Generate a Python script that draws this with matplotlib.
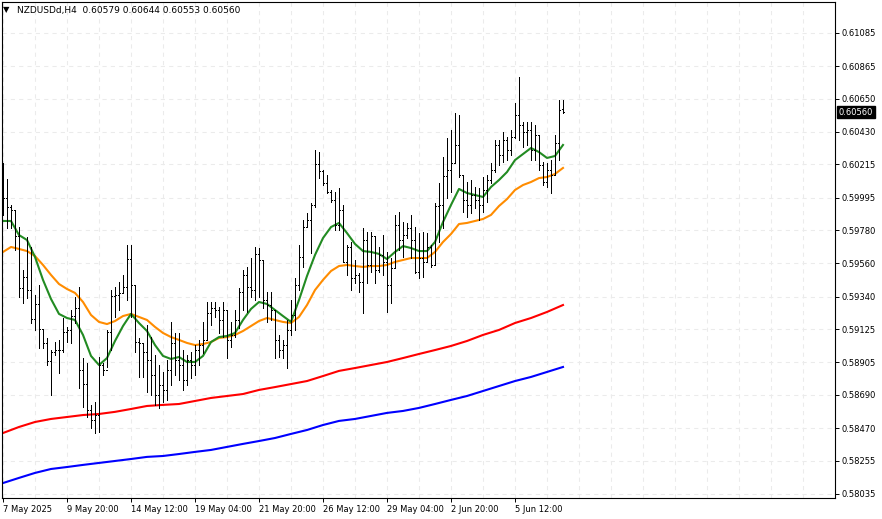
import numpy as np
import matplotlib
matplotlib.use("Agg")
import matplotlib.pyplot as plt
from matplotlib.ticker import FixedLocator

# NZDUSDd H4 bars (open, high, low, close), oldest first
opens = [0.60145, 0.59993, 0.59934, 0.59914, 0.59742, 0.59398, 0.59470, 0.59384, 0.59192, 0.59292,
         0.59126, 0.59034, 0.58915, 0.58974, 0.58987, 0.58987, 0.59107, 0.59120, 0.59212, 0.59265,
         0.58855, 0.58762, 0.58591, 0.58524, 0.58557, 0.58888, 0.58855, 0.59107, 0.59345, 0.59351,
         0.59365, 0.59404, 0.59589, 0.59417, 0.59040, 0.59034, 0.58974, 0.58921, 0.58822, 0.58690,
         0.58756, 0.58723, 0.58855, 0.59034, 0.58921, 0.58888, 0.58789, 0.58921, 0.58888, 0.58987,
         0.59020, 0.59054, 0.59232, 0.59265, 0.59252, 0.59186, 0.59252, 0.59054, 0.59087, 0.59186,
         0.59371, 0.59484, 0.59404, 0.59384, 0.59623, 0.59583, 0.59318, 0.59285, 0.59252, 0.59054,
         0.58987, 0.59020, 0.59120, 0.59219, 0.59417, 0.59603, 0.59801, 0.59847, 0.59947, 0.60218,
         0.60172, 0.60092, 0.60033, 0.59980, 0.59814, 0.59914, 0.59570, 0.59669, 0.59464, 0.59484,
         0.59437, 0.59715, 0.59550, 0.59742, 0.59517, 0.59616, 0.59570, 0.59417, 0.59530, 0.59814,
         0.59715, 0.59748, 0.59795, 0.59715, 0.59503, 0.59596, 0.59570, 0.59669, 0.59550, 0.59940,
         0.59947, 0.60139, 0.60178, 0.60224, 0.60344, 0.60145, 0.59980, 0.59947, 0.60013, 0.59980,
         0.59947, 0.60046, 0.60112, 0.60178, 0.60344, 0.60278, 0.60377, 0.60311, 0.60397, 0.60542,
         0.60476, 0.60430, 0.60443, 0.60311, 0.60410, 0.60211, 0.60099, 0.60178, 0.60145, 0.60357,
         0.60579]
highs = [0.60224, 0.60119, 0.59947, 0.59907, 0.59801, 0.59517, 0.59735, 0.59669, 0.59351, 0.59417,
         0.59120, 0.59067, 0.58987, 0.59040, 0.59054, 0.59199, 0.59140, 0.59252, 0.59338, 0.59404,
         0.58934, 0.58902, 0.58624, 0.58643, 0.58941, 0.58902, 0.59120, 0.59384, 0.59404, 0.59437,
         0.59484, 0.59682, 0.59682, 0.59417, 0.59067, 0.59034, 0.59153, 0.59073, 0.58954, 0.58888,
         0.58842, 0.58921, 0.59173, 0.59100, 0.59100, 0.58987, 0.58954, 0.58974, 0.59020, 0.59054,
         0.59173, 0.59305, 0.59305, 0.59305, 0.59272, 0.59305, 0.59252, 0.59173, 0.59252, 0.59398,
         0.59517, 0.59537, 0.59596, 0.59669, 0.59662, 0.59583, 0.59371, 0.59371, 0.59252, 0.59087,
         0.59054, 0.59186, 0.59318, 0.59464, 0.59682, 0.59847, 0.59894, 0.59960, 0.60311, 0.60297,
         0.60178, 0.60145, 0.60046, 0.60033, 0.60059, 0.59947, 0.59682, 0.59702, 0.59583, 0.59497,
         0.59795, 0.59768, 0.59768, 0.59742, 0.59669, 0.59748, 0.59636, 0.59596, 0.59881, 0.59900,
         0.59834, 0.59828, 0.59881, 0.59801, 0.59761, 0.59768, 0.59761, 0.59682, 0.59960, 0.60092,
         0.60264, 0.60390, 0.60443, 0.60555, 0.60542, 0.60145, 0.60099, 0.60112, 0.60066, 0.60059,
         0.60132, 0.60145, 0.60224, 0.60377, 0.60377, 0.60430, 0.60397, 0.60443, 0.60622, 0.60794,
         0.60496, 0.60496, 0.60496, 0.60476, 0.60410, 0.60231, 0.60224, 0.60244, 0.60410, 0.60641,
         0.60644]
lows = [0.59881, 0.59795, 0.59795, 0.59649, 0.59338, 0.59298, 0.59332, 0.59166, 0.59120, 0.59001,
        0.59001, 0.58888, 0.58690, 0.58954, 0.58835, 0.58974, 0.59040, 0.59034, 0.59166, 0.58736,
        0.58610, 0.58544, 0.58471, 0.58438, 0.58445, 0.58822, 0.58875, 0.58987, 0.59206, 0.59252,
        0.59365, 0.59318, 0.59206, 0.58974, 0.58809, 0.58809, 0.58710, 0.58690, 0.58624, 0.58604,
        0.58643, 0.58657, 0.58756, 0.58822, 0.58789, 0.58723, 0.58756, 0.58802, 0.58822, 0.58888,
        0.58968, 0.59054, 0.59153, 0.59206, 0.59100, 0.59073, 0.58934, 0.59007, 0.59073, 0.59133,
        0.59252, 0.59239, 0.59338, 0.59318, 0.59338, 0.59265, 0.59173, 0.59186, 0.58934, 0.58941,
        0.58934, 0.58868, 0.59087, 0.59120, 0.59384, 0.59537, 0.59801, 0.59629, 0.59934, 0.60125,
        0.60079, 0.60026, 0.59967, 0.59781, 0.59781, 0.59570, 0.59484, 0.59384, 0.59431, 0.59371,
        0.59232, 0.59431, 0.59503, 0.59431, 0.59503, 0.59484, 0.59239, 0.59298, 0.59530, 0.59649,
        0.59603, 0.59728, 0.59596, 0.59497, 0.59464, 0.59470, 0.59570, 0.59537, 0.59550, 0.59702,
        0.59795, 0.59993, 0.60033, 0.60224, 0.60132, 0.59900, 0.59867, 0.59894, 0.59927, 0.59847,
        0.59900, 0.59967, 0.60092, 0.60165, 0.60211, 0.60231, 0.60244, 0.60278, 0.60390, 0.60377,
        0.60330, 0.60344, 0.60244, 0.60244, 0.60178, 0.60079, 0.60066, 0.60026, 0.60145, 0.60244,
        0.60553]
closes = [0.59993, 0.59934, 0.59914, 0.59742, 0.59398, 0.59470, 0.59384, 0.59192, 0.59292, 0.59126,
          0.59034, 0.58915, 0.58974, 0.58987, 0.58987, 0.59107, 0.59120, 0.59212, 0.59265, 0.58855,
          0.58762, 0.58591, 0.58524, 0.58557, 0.58888, 0.58855, 0.59107, 0.59345, 0.59351, 0.59365,
          0.59404, 0.59589, 0.59417, 0.59040, 0.59034, 0.58974, 0.58921, 0.58822, 0.58690, 0.58756,
          0.58723, 0.58855, 0.59034, 0.58921, 0.58888, 0.58789, 0.58921, 0.58888, 0.58987, 0.59020,
          0.59054, 0.59232, 0.59265, 0.59252, 0.59186, 0.59252, 0.59054, 0.59087, 0.59186, 0.59371,
          0.59484, 0.59404, 0.59384, 0.59623, 0.59583, 0.59318, 0.59285, 0.59252, 0.59054, 0.58987,
          0.59020, 0.59120, 0.59219, 0.59417, 0.59603, 0.59801, 0.59847, 0.59947, 0.60218, 0.60172,
          0.60092, 0.60033, 0.59980, 0.59814, 0.59914, 0.59570, 0.59669, 0.59464, 0.59484, 0.59437,
          0.59715, 0.59550, 0.59742, 0.59517, 0.59616, 0.59570, 0.59417, 0.59530, 0.59814, 0.59715,
          0.59748, 0.59795, 0.59715, 0.59503, 0.59596, 0.59570, 0.59669, 0.59550, 0.59940, 0.59947,
          0.60139, 0.60178, 0.60224, 0.60344, 0.60145, 0.59980, 0.59947, 0.60013, 0.59980, 0.59947,
          0.60046, 0.60112, 0.60178, 0.60344, 0.60278, 0.60377, 0.60311, 0.60397, 0.60542, 0.60476,
          0.60430, 0.60443, 0.60311, 0.60410, 0.60211, 0.60099, 0.60178, 0.60145, 0.60357, 0.60575,
          0.60560]

# fast moving averages, read every 2nd bar
ma_green = [0.59841, 0.59841, 0.59748, 0.59715, 0.59603, 0.59451, 0.59325, 0.59226, 0.59199, 0.59186,
            0.59087, 0.58948, 0.58888, 0.58934, 0.59047, 0.59146, 0.59226, 0.59166, 0.59113, 0.59020,
            0.58948, 0.58928, 0.58941, 0.58908, 0.58908, 0.58948, 0.59040, 0.59073, 0.59080, 0.59100,
            0.59186, 0.59259, 0.59305, 0.59292, 0.59252, 0.59212, 0.59173, 0.59318, 0.59477, 0.59616,
            0.59728, 0.59801, 0.59828, 0.59761, 0.59689, 0.59642, 0.59636, 0.59623, 0.59589, 0.59636,
            0.59675, 0.59662, 0.59642, 0.59642, 0.59702, 0.59834, 0.59947, 0.60053, 0.60026, 0.60013,
            0.60000, 0.60066, 0.60112, 0.60165, 0.60244, 0.60284, 0.60324, 0.60297, 0.60258, 0.60271,
            0.60344]
ma_orange = [0.59636, 0.59669, 0.59656, 0.59642, 0.59609, 0.59550, 0.59484, 0.59424, 0.59391, 0.59365,
             0.59305, 0.59219, 0.59173, 0.59159, 0.59179, 0.59212, 0.59226, 0.59206, 0.59186, 0.59140,
             0.59100, 0.59073, 0.59054, 0.59034, 0.59020, 0.59027, 0.59040, 0.59067, 0.59073, 0.59087,
             0.59113, 0.59146, 0.59179, 0.59199, 0.59186, 0.59173, 0.59166, 0.59206, 0.59285, 0.59384,
             0.59451, 0.59510, 0.59543, 0.59550, 0.59543, 0.59537, 0.59543, 0.59543, 0.59550, 0.59570,
             0.59583, 0.59596, 0.59596, 0.59596, 0.59636, 0.59702, 0.59755, 0.59821, 0.59828, 0.59841,
             0.59854, 0.59881, 0.59940, 0.59986, 0.60046, 0.60079, 0.60099, 0.60125, 0.60132, 0.60152,
             0.60192]
# slow moving averages, read every 4th bar
ma_red = [0.58438, 0.58478, 0.58511, 0.58531, 0.58544, 0.58557, 0.58564, 0.58578, 0.58597, 0.58617,
          0.58624, 0.58630, 0.58650, 0.58670, 0.58683, 0.58696, 0.58723, 0.58742, 0.58762, 0.58782,
          0.58815, 0.58849, 0.58868, 0.58888, 0.58908, 0.58934, 0.58961, 0.58987, 0.59014, 0.59047,
          0.59087, 0.59120, 0.59166, 0.59199, 0.59239, 0.59285]
ma_blue = [0.58107, 0.58141, 0.58174, 0.58200, 0.58213, 0.58227, 0.58240, 0.58253, 0.58266, 0.58280,
           0.58286, 0.58299, 0.58313, 0.58326, 0.58346, 0.58366, 0.58385, 0.58405, 0.58432, 0.58458,
           0.58491, 0.58518, 0.58531, 0.58551, 0.58571, 0.58584, 0.58604, 0.58630, 0.58657, 0.58683,
           0.58716, 0.58749, 0.58782, 0.58809, 0.58842, 0.58875]

# axis labels as shown by the terminal
price_ticks = [0.61085, 0.60865, 0.60650, 0.60430, 0.60215, 0.59995, 0.59780,
               0.59560, 0.59340, 0.59125, 0.58905, 0.58690, 0.58470, 0.58255, 0.58035]
time_labels = ["7 May 2025", "9 May 20:00", "14 May 12:00", "19 May 04:00", "21 May 20:00",
               "26 May 12:00", "29 May 04:00", "2 Jun 20:00", "5 Jun 12:00"]
symbol = "NZDUSDd,H4"

W, H = 882, 519
fig = plt.figure(figsize=(W / 100, H / 100), dpi=100)
fig.patch.set_facecolor("white")
# chart area in pixels: x 2..835, y 2..498
ax = fig.add_axes([2 / W, (H - 498) / H, 833 / W, 496 / H])

n = len(closes)
idx = np.arange(n)
ax.set_xlim(-0.25, 208)
ax.set_ylim(0.58008, 0.61290)

# grid
for p in price_ticks:
    ax.axhline(p, color="#ebebeb", lw=0.75, ls=(0, (4, 4)), zorder=0)
for g in range(0, 208, 8):
    ax.axvline(g, color="#ebebeb", lw=0.75, ls=(0, (4, 4)), zorder=0)

# moving averages
slow_x = np.arange(0, 4 * len(ma_red), 4)
fast_x = np.arange(0, 2 * len(ma_green), 2)
ax.plot(slow_x, ma_blue, color="#0000ff", lw=1.5, zorder=2)
ax.plot(slow_x, ma_red, color="#ff0000", lw=1.5, zorder=2)
ax.plot(fast_x, ma_orange, color="#ff8c00", lw=1.5, zorder=2)
ax.plot(fast_x, ma_green, color="#228b22", lw=1.5, zorder=2)

# OHLC bars: thin 1px stems, 1px open/close ticks
ax.vlines(idx, lows, highs, color="black", lw=0.72, antialiased=False, zorder=3)
ax.hlines(opens, idx - 0.3, idx, color="black", lw=0.72, antialiased=False, zorder=3)
ax.hlines(closes, idx, idx + 0.3, color="black", lw=0.72, antialiased=False, zorder=3)

# frame
for s in ax.spines.values():
    s.set_color("black")
    s.set_linewidth(0.8)

# right price axis
ax.yaxis.tick_right()
ax.yaxis.set_major_locator(FixedLocator(price_ticks))
ax.set_yticklabels([f"{p:.5f}" for p in price_ticks])
ax.tick_params(axis="y", length=3, width=0.7, pad=2, labelsize=6, colors="black")

# time axis
ax.xaxis.set_major_locator(FixedLocator(np.arange(0, 16 * len(time_labels), 16)))
ax.set_xticklabels(time_labels, ha="left")
ax.tick_params(axis="x", length=3, width=0.7, pad=2, labelsize=6)

# current price marker
last = closes[-1]
ax.annotate(f"{last:.5f}", xy=(1, last), xycoords=("axes fraction", "data"),
            xytext=(2.5, 0), textcoords="offset points", va="center", ha="left",
            fontsize=6, color="white",
            bbox=dict(boxstyle="square,pad=0.2", fc="black", ec="black"))

# header
fig.text(3 / W, 1 - 10 / H, "\u25bc", fontsize=6, va="center", ha="left")
fig.text(17 / W, 1 - 10 / H,
         f"{symbol}  {opens[-1]:.5f} {highs[-1]:.5f} {lows[-1]:.5f} {closes[-1]:.5f}",
         fontsize=6.5, va="center", ha="left")

fig.savefig("out.png", dpi=100, facecolor="white")
